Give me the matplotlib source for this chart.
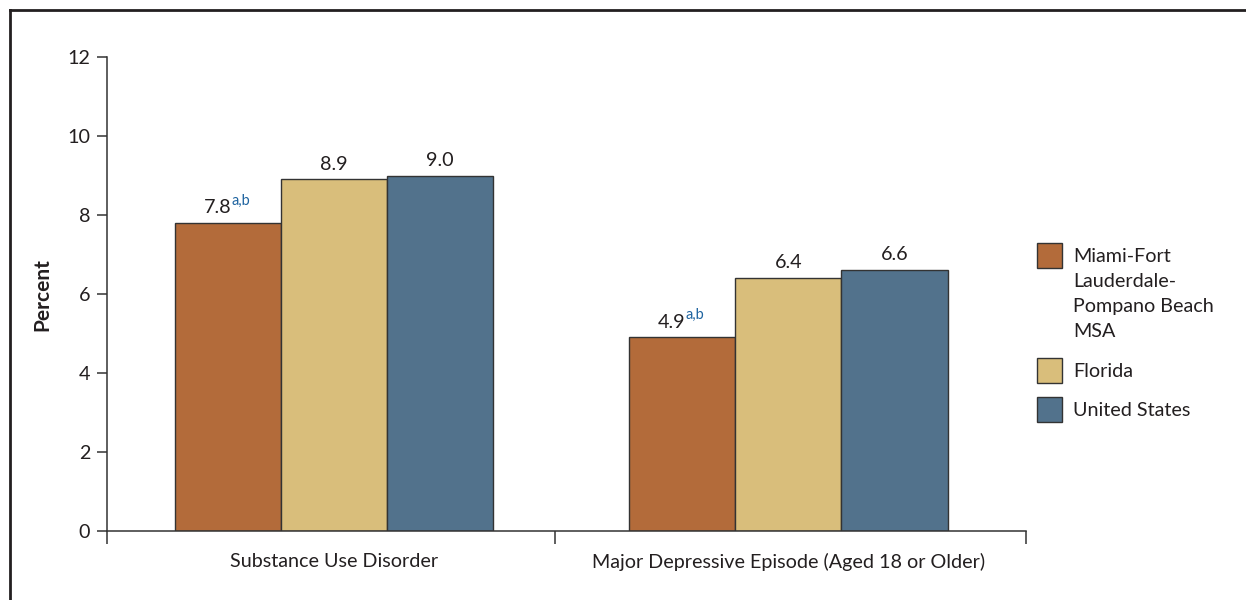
import matplotlib.pyplot as plt
from matplotlib.patches import Rectangle
from matplotlib.lines import Line2D
import numpy as np

plt.rcParams['font.family'] = ['Lato', 'DejaVu Sans']

categories = ['Substance Use Disorder', 'Major Depressive Episode (Aged 18 or Older)']
series = ['Miami-Fort\nLauderdale-\nPompano Beach\nMSA', 'Florida', 'United States']
values = {
    'Miami-Fort\nLauderdale-\nPompano Beach\nMSA': [7.8, 4.9],
    'Florida': [8.9, 6.4],
    'United States': [9.0, 6.6],
}
notes = {
    'Miami-Fort\nLauderdale-\nPompano Beach\nMSA': ['a,b', 'a,b'],
    'Florida': ['', ''],
    'United States': ['', ''],
}
colors = ['#B36B3A', '#D9BE7B', '#52728C']
yticks = [0, 2, 4, 6, 8, 10, 12]

W, H = 1246, 600
fig = plt.figure(figsize=(W / 100, H / 100), dpi=100)
ax = fig.add_axes([107 / W, 1 - 531 / H, (1026 - 107) / W, (531 - 57) / H])
fs = 14.2
txt = '#231F20'

x = np.arange(len(categories))
width = 0.2335
for i, s in enumerate(series):
    pos = x + (i - 1) * width
    ax.bar(pos, values[s], width, color=colors[i], edgecolor='#333333', linewidth=1.0)
    for p, v, n in zip(pos, values[s], notes[s]):
        shift = -7.5 if n else 0
        t = ax.annotate(f'{v:.1f}', xy=(p, v), xytext=(shift, 5), textcoords='offset points',
                        ha='center', va='bottom', fontsize=fs, color=txt)
        if n:
            ax.annotate(n, xy=(1.0, 0.5), xycoords=t, ha='left', va='bottom',
                        fontsize=10.5, color='#1F64A0')

ax.set_xlim(-0.5, 1.523)
ax.set_ylim(0, 12)
ax.set_yticks(yticks)
ax.set_yticklabels([str(v) for v in yticks], fontsize=fs, color=txt)
ax.set_xticks(x)
ax.set_xticklabels(categories, fontsize=fs, color=txt)
ax.tick_params(axis='x', which='major', length=0, pad=16)
ax.set_xticks([-0.5, 0.487, 1.523], minor=True)
ax.tick_params(axis='x', which='minor', length=9, width=1.1, color='#333333', direction='out')
ax.tick_params(axis='y', length=7, width=1.1, color='#333333', pad=5)
for side in ['top', 'right']:
    ax.spines[side].set_visible(False)
for side in ['left', 'bottom']:
    ax.spines[side].set_linewidth(1.1)
    ax.spines[side].set_color('#333333')

fig.text(42 / W, 1 - 295 / H, 'Percent', rotation=90, ha='center', va='center',
         fontsize=15, fontweight='bold', color=txt)

# legend, drawn by hand so the swatch lines up with the first text line
legend_tops = [243, 358, 397]
for c, s, top in zip(colors, series, legend_tops):
    fig.add_artist(Rectangle((1037 / W, 1 - (top + 25) / H), 25 / W, 25 / H,
                             transform=fig.transFigure, facecolor=c,
                             edgecolor='#333333', linewidth=1.0))
    fig.text(1073 / W, 1 - (top + 5) / H, s, ha='left', va='top', fontsize=fs,
             color=txt, linespacing=1.56)

# figure frame (top and left)
fig.add_artist(Line2D([10 / W, 1.0], [1 - 10 / H, 1 - 10 / H], color=txt, linewidth=2.0))
fig.add_artist(Line2D([10 / W, 10 / W], [1 - 10 / H, 0.0], color=txt, linewidth=2.0))

fig.savefig('out.png', dpi=100)
